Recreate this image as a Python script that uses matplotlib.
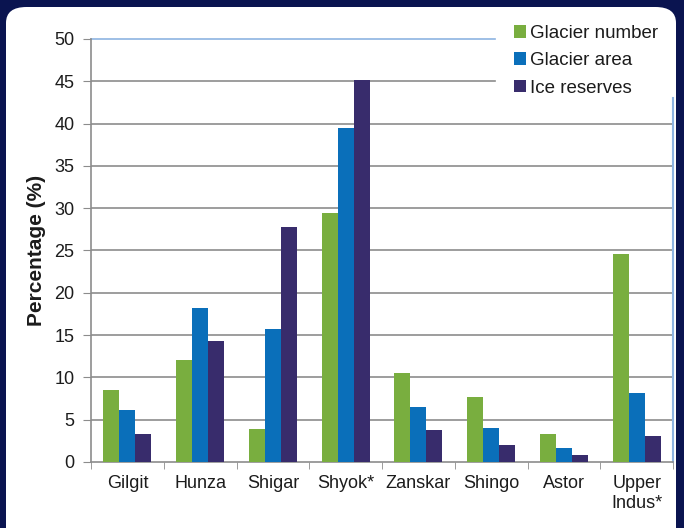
import matplotlib
matplotlib.use('Agg')
from matplotlib import pyplot as plt
from matplotlib.patches import FancyBboxPatch
import numpy as np

regions = ['Gilgit', 'Hunza', 'Shigar', 'Shyok*', 'Zanskar', 'Shingo', 'Astor', 'Upper\nIndus*']
glacier_number = [8.5, 12.1, 3.9, 29.4, 10.5, 7.7, 3.3, 24.6]
glacier_area = [6.1, 18.2, 15.7, 39.5, 6.5, 4.0, 1.6, 8.1]
ice_reserves = [3.3, 14.3, 27.8, 45.2, 3.8, 2.0, 0.8, 3.1]

plt.rcParams['font.family'] = ['Liberation Sans', 'DejaVu Sans']
text_col = '#1c1c1c'

fig = plt.figure(figsize=(6.84, 5.28), dpi=100)
fig.patch.set_facecolor('#0a1450')
panel = FancyBboxPatch((6 / 684, -0.05), 670 / 684, 1 - 7 / 528 + 0.05,
                       boxstyle='round,pad=0,rounding_size=0.03',
                       transform=fig.transFigure, facecolor='white', edgecolor='none',
                       zorder=-10)
fig.patches.append(panel)

ax = fig.add_axes([91 / 684, 66 / 528, 582 / 684, 423 / 528])
ax.set_facecolor('none')

x = np.arange(len(regions))
w = 0.22
ax.bar(x - w, glacier_number, w, color='#79ae3f', label='Glacier number', zorder=3)
ax.bar(x, glacier_area, w, color='#0a6fba', label='Glacier area', zorder=3)
ax.bar(x + w, ice_reserves, w, color='#382c6c', label='Ice reserves', zorder=3)

ax.set_xlim(-0.5, len(regions) - 0.5)
ax.set_ylim(0, 50)
ax.set_yticks(range(0, 51, 5))
for v in range(5, 45, 5):
    ax.axhline(v, color='#8c8c8c', lw=1.2, zorder=1)
# the two top gridlines stop short of the legend
ax.plot([-0.5, 5.05], [45, 45], color='#8c8c8c', lw=1.2, zorder=1)
ax.plot([-0.5, 5.05], [50, 50], color='#8db4e2', lw=1.2, clip_on=False, zorder=1)

ax.set_xticks(x)
ax.set_xticklabels(regions, fontsize=13, color=text_col, linespacing=1.25)
ax.set_xticks(np.arange(-0.5, len(regions), 1), minor=True)
ax.tick_params(axis='x', which='major', length=0, pad=9)
ax.tick_params(axis='x', which='minor', length=5, color='#8c8c8c', direction='out')
ax.tick_params(axis='y', length=6, color='#8c8c8c', labelsize=13, labelcolor=text_col, pad=6)

ax.spines['top'].set_visible(False)
ax.spines['right'].set_bounds(0, 43)
ax.spines['right'].set_color('#8db4e2')
ax.spines['right'].set_linewidth(1.5)
for s in ['left', 'bottom']:
    ax.spines[s].set_color('#8c8c8c')
    ax.spines[s].set_linewidth(1.2)

ax.set_ylabel('Percentage (%)', fontsize=15, fontweight='bold', color=text_col, labelpad=6)

ax.legend(loc='upper left', bbox_to_anchor=(514 / 684, 1 - 25 / 528),
          bbox_transform=fig.transFigure, frameon=False, fontsize=13.5,
          borderpad=0, borderaxespad=0, labelcolor=text_col,
          handlelength=0.65, handleheight=0.65, handletextpad=0.2, labelspacing=0.55)

fig.savefig('out.png', dpi=100, facecolor=fig.get_facecolor())
